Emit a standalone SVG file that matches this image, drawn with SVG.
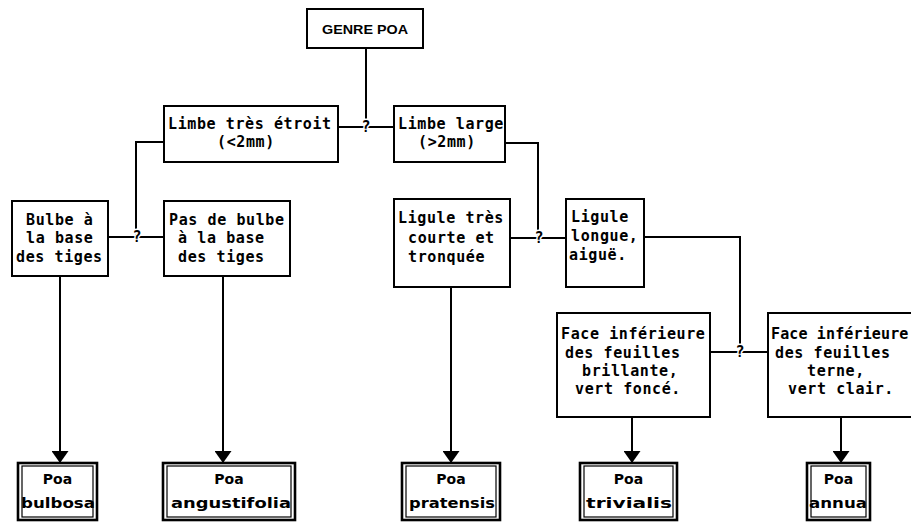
<svg xmlns="http://www.w3.org/2000/svg" width="911" height="524" viewBox="0 0 911 524">
<style>
.box{fill:#fff;stroke:#000;stroke-width:2}
.outer{fill:#fff;stroke:#000;stroke-width:2.6}
.inner{fill:none;stroke:#000;stroke-width:1.2}
.t{font-family:"DejaVu Sans Mono","Liberation Mono",monospace;font-weight:bold;font-size:15px;letter-spacing:0.6px;fill:#000}
.g{font-family:"Liberation Sans",Arial,sans-serif;font-weight:bold;font-size:13px;fill:#000}
.s{font-family:"DejaVu Sans","Liberation Sans",sans-serif;font-weight:bold;font-size:14px;fill:#000}
.q{font-family:"DejaVu Sans Mono",monospace;font-weight:bold;font-size:15px;fill:#000;text-anchor:middle;stroke:#fff;stroke-width:3;paint-order:stroke}
.ln{fill:none;stroke:#000;stroke-width:2}
</style>
<defs>
<marker id="ah" markerUnits="userSpaceOnUse" markerWidth="13" markerHeight="17" refX="12" refY="8.5" orient="auto" viewBox="0 0 12 17"><path d="M0,0 L12,8.5 L0,17 z" fill="#000"/></marker>
</defs>
<rect width="911" height="524" fill="#fff"/>
<g id="connectors">
<path class="ln" d="M366 48 V127 M338 127 H394"/>
<path class="ln" d="M164 142 H136 V237 M108 237 H164"/>
<path class="ln" d="M505 143 H538 V238 M510 238 H566"/>
<path class="ln" d="M644 237 H740 V352 M710 352 H768"/>
<path class="ln" d="M60 276 V463" marker-end="url(#ah)"/>
<path class="ln" d="M223 276 V463" marker-end="url(#ah)"/>
<path class="ln" d="M451 287 V463" marker-end="url(#ah)"/>
<path class="ln" d="M632 417 V463" marker-end="url(#ah)"/>
<path class="ln" d="M841 417 V463" marker-end="url(#ah)"/>
<text class="q" x="366" y="132">?</text>
<text class="q" x="137" y="242">?</text>
<text class="q" x="539" y="243">?</text>
<text class="q" x="740" y="357">?</text>
</g>
<g id="genre">
<rect class="box" x="307" y="9" width="116" height="39"/>
<text class="g" x="322" y="34" textLength="86" lengthAdjust="spacingAndGlyphs">GENRE POA</text>
</g>
<g id="limbe-etroit">
<rect class="box" x="164" y="106" width="174" height="56"/>
<text class="t" x="168" y="129">Limbe très étroit</text>
<text class="t" x="217" y="147">(&lt;2mm)</text>
</g>
<g id="limbe-large">
<rect class="box" x="394" y="106" width="111" height="56"/>
<text class="t" x="398" y="129">Limbe large</text>
<text class="t" x="418" y="147">(&gt;2mm)</text>
</g>
<g id="bulbe">
<rect class="box" x="12" y="201" width="96" height="75"/>
<text class="t" x="26" y="225">Bulbe à</text>
<text class="t" x="26" y="243">la base</text>
<text class="t" x="16" y="262">des tiges</text>
</g>
<g id="pas-bulbe">
<rect class="box" x="164" y="201" width="126" height="75"/>
<text class="t" x="169" y="225">Pas de bulbe</text>
<text class="t" x="178" y="243">à la base</text>
<text class="t" x="178" y="262">des tiges</text>
</g>
<g id="ligule-courte">
<rect class="box" x="394" y="199" width="116" height="88"/>
<text class="t" x="398" y="223">Ligule très</text>
<text class="t" x="408" y="243">courte et</text>
<text class="t" x="408" y="262">tronquée</text>
</g>
<g id="ligule-longue">
<rect class="box" x="566" y="199" width="78" height="88"/>
<text class="t" x="571" y="222">Ligule</text>
<text class="t" x="571" y="241">longue,</text>
<text class="t" x="569" y="260">aiguë.</text>
</g>
<g id="face-brillante">
<rect class="box" x="557" y="313" width="153" height="104"/>
<text class="t" x="561" y="339">Face inférieure</text>
<text class="t" x="565" y="358">des feuilles</text>
<text class="t" x="582" y="376">brillante,</text>
<text class="t" x="575" y="394">vert foncé.</text>
</g>
<g id="face-terne">
<rect class="box" x="768" y="313" width="150" height="104"/>
<text class="t" x="771" y="339" textLength="138" lengthAdjust="spacing">Face inférieure</text>
<text class="t" x="775" y="358">des feuilles</text>
<text class="t" x="807" y="376">terne,</text>
<text class="t" x="788" y="394">vert clair.</text>
</g>
<g id="poa-bulbosa">
<rect class="outer" x="18" y="463" width="79" height="57"/>
<rect class="inner" x="22" y="466" width="71" height="51"/>
<text class="s" x="57.5" y="484" text-anchor="middle">Poa</text>
<text class="s" x="21" y="508" textLength="74" lengthAdjust="spacingAndGlyphs">bulbosa</text>
</g>
<g id="poa-angustifolia">
<rect class="outer" x="163" y="463" width="132" height="57"/>
<rect class="inner" x="167" y="466" width="124" height="51"/>
<text class="s" x="229" y="484" text-anchor="middle">Poa</text>
<text class="s" x="171" y="508" textLength="120" lengthAdjust="spacingAndGlyphs">angustifolia</text>
</g>
<g id="poa-pratensis">
<rect class="outer" x="402" y="463" width="98" height="57"/>
<rect class="inner" x="406" y="466" width="90" height="51"/>
<text class="s" x="451" y="484" text-anchor="middle">Poa</text>
<text class="s" x="409" y="508" textLength="86" lengthAdjust="spacingAndGlyphs">pratensis</text>
</g>
<g id="poa-trivialis">
<rect class="outer" x="580" y="463" width="97" height="57"/>
<rect class="inner" x="584" y="466" width="89" height="51"/>
<text class="s" x="628.5" y="484" text-anchor="middle">Poa</text>
<text class="s" x="586" y="508" textLength="86" lengthAdjust="spacingAndGlyphs">trivialis</text>
</g>
<g id="poa-annua">
<rect class="outer" x="807" y="463" width="63" height="57"/>
<rect class="inner" x="811" y="466" width="55" height="51"/>
<text class="s" x="838.5" y="484" text-anchor="middle">Poa</text>
<text class="s" x="809" y="508" textLength="58" lengthAdjust="spacingAndGlyphs">annua</text>
</g>
</svg>
